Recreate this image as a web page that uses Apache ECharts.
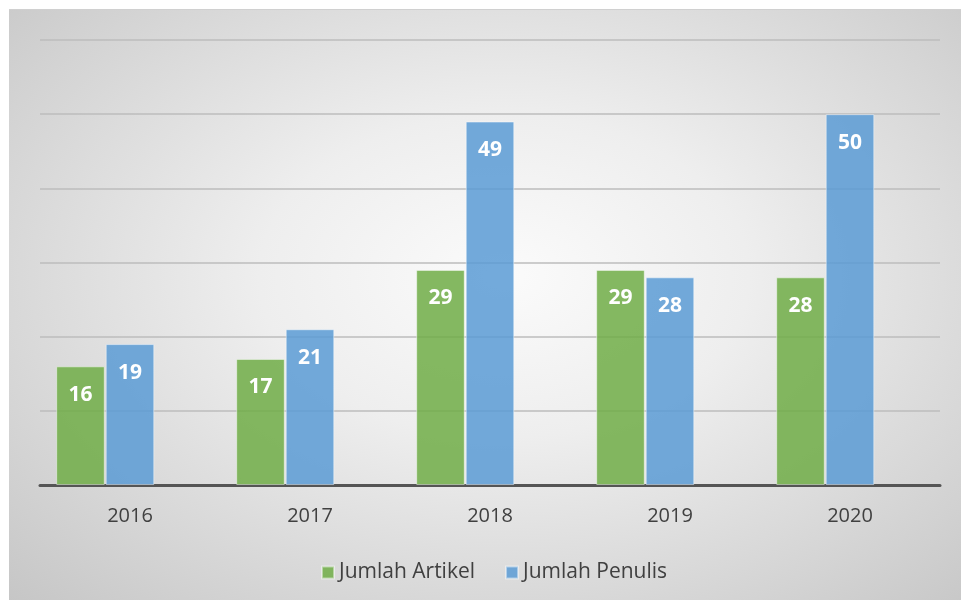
<!DOCTYPE html>
<html>
<head>
<meta charset="utf-8">
<script src="https://cdn.jsdelivr.net/npm/echarts@6/dist/echarts.min.js"></script>
<style>
  html, body { margin: 0; padding: 0; background: #ffffff; }
  #bg {
    position: absolute; left: 9px; top: 9px; width: 952px; height: 591px;
    background: radial-gradient(ellipse farthest-corner at 52% 45%, #fbfbfb 0%, #eeeeee 35%, #c6c6c6 100%);
    border-top: 1px solid #d0d0d0;
  }
  #chart-container { position: absolute; left: 0; top: 0; width: 961px; height: 600px; }
</style>
</head>
<body>
<div id="bg"></div>
<div id="chart-container"></div>
<script>
var years = ["2016", "2017", "2018", "2019", "2020"];
var jumlahArtikel = [16, 17, 29, 29, 28];
var jumlahPenulis = [19, 21, 49, 28, 50];
var emptySeries = [null, null, null, null, null];

var dom = document.getElementById("chart-container");
var myChart = echarts.init(dom);
var option = null;

var labelStyle = {
  show: true,
  position: "insideTop",
  distance: 18,
  color: "#ffffff",
  fontWeight: "bold",
  fontSize: 21,
  fontFamily: "Open Sans"
};

option = {
  animation: false,
  backgroundColor: "transparent",
  textStyle: { fontFamily: "Open Sans" },
  grid: { left: 40, right: 21, top: 40, bottom: 115 },
  legend: {
    data: ["Jumlah Artikel", "Jumlah Penulis"],
    left: 316,
    top: 557,
    itemWidth: 12,
    itemHeight: 12,
    itemGap: 30,
    icon: "rect",
    textStyle: { fontSize: 21, color: "#404040", fontFamily: "Open Sans" }
  },
  xAxis: {
    type: "category",
    data: years,
    axisLine: { lineStyle: { color: "#555555", width: 3 } },
    axisTick: { show: false },
    axisLabel: { fontSize: 20, color: "#404040", margin: 21, fontFamily: "Open Sans" }
  },
  yAxis: {
    type: "value",
    min: 0,
    max: 60,
    interval: 10,
    axisLabel: { show: false },
    axisLine: { show: false },
    axisTick: { show: false },
    splitLine: { lineStyle: { color: "#bdbdbd", width: 1.5 } }
  },
  series: [
    {
      name: "Jumlah Artikel",
      type: "bar",
      data: jumlahArtikel,
      barCategoryGap: "18%",
      barGap: "2%",
      itemStyle: { color: "rgba(112,173,71,0.85)", borderColor: "rgba(255,255,255,0.45)", borderWidth: 1 },
      label: labelStyle
    },
    {
      name: "Jumlah Penulis",
      type: "bar",
      data: jumlahPenulis,
      itemStyle: { color: "rgba(91,155,213,0.85)", borderColor: "rgba(255,255,255,0.45)", borderWidth: 1 },
      label: labelStyle
    },
    {
      name: "",
      type: "bar",
      data: emptySeries
    }
  ]
};

if (option && typeof option === "object") {
  myChart.setOption(option, true);
}
</script>
</body>
</html>
